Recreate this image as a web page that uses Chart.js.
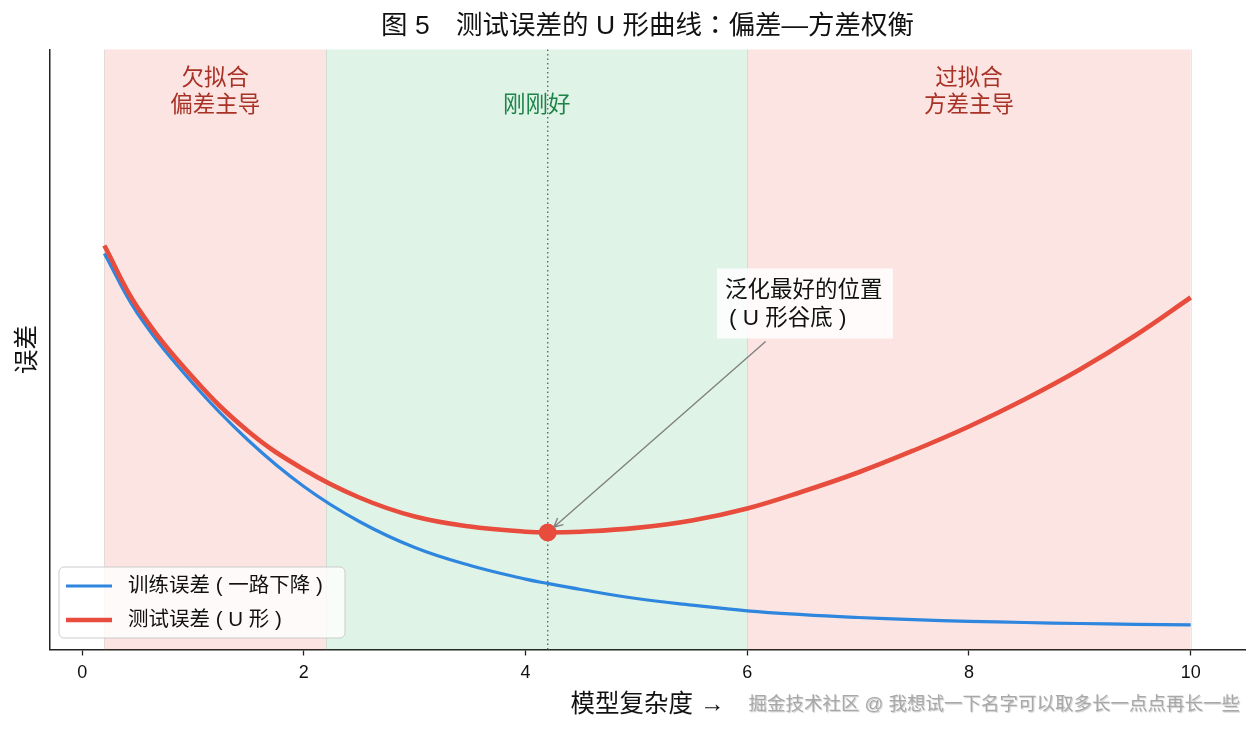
<!DOCTYPE html>
<html>
<head>
<meta charset="utf-8">
<script src="https://cdn.jsdelivr.net/npm/chart.js@4.4.1/dist/chart.umd.min.js"></script>
<style>
    html, body { margin: 0; padding: 0; background: #fff; }
    canvas { display: block; }
</style>
</head>
<body>
<canvas id="uCurveChart" width="1260" height="734"></canvas>
<script>
// Data
const complexity = [0.2, 0.5, 1, 1.5, 2, 2.5, 3, 3.5, 4, 4.2, 4.5, 5, 5.5, 6, 6.5, 7, 7.5, 8, 8.5, 9, 9.5, 10];
const trainError = [1.98, 1.68, 1.33, 1.045, 0.815, 0.64, 0.51, 0.42, 0.352, 0.33, 0.30, 0.255, 0.222, 0.193, 0.174, 0.16, 0.149, 0.141, 0.135, 0.13, 0.126, 0.123];
const testError = [2.02, 1.71, 1.36, 1.09, 0.90, 0.76, 0.665, 0.615, 0.589, 0.585, 0.589, 0.608, 0.645, 0.705, 0.79, 0.885, 0.995, 1.115, 1.25, 1.40, 1.57, 1.76];
const xTickValues = [0, 2, 4, 6, 8, 10];
const regionEdges = [0.2, 2.2, 6.0, 10.0];
const regionNames = [['欠拟合', '偏差主导'], ['刚刚好'], ['过拟合', '方差主导']];
const regionCenters = [1.2, 4.1, 8.0];
const bestComplexity = 4.2;
const bestTestError = 0.585;

const FONT = '"Liberation Sans", "Noto Sans CJK SC", sans-serif';
const TITLE_FONT = '"Liberation Sans", "Noto Sans CJK TC", sans-serif';
const RED = '#e74c3c';
const BLUE = '#2e86de';

const toPoints = (xs, ys) => xs.map((x, i) => ({ x: x, y: ys[i] }));

// Shaded regimes, dotted optimum line, region labels
const backdrop = {
    id: 'backdrop',
    beforeDatasetsDraw(chart) {
        const { ctx, chartArea: a, scales: { x } } = chart;
        const fills = ['rgba(231,76,60,0.15)', 'rgba(39,174,96,0.15)', 'rgba(231,76,60,0.15)'];
        const textColors = ['#a93226', '#1e8449', '#a93226'];
        ctx.save();
        for (let i = 0; i < 3; i++) {
            const x0 = x.getPixelForValue(regionEdges[i]);
            const x1 = x.getPixelForValue(regionEdges[i + 1]);
            ctx.fillStyle = fills[i];
            ctx.fillRect(x0, a.top, x1 - x0, a.bottom - a.top);
        }
        ctx.strokeStyle = 'rgba(160,160,160,0.25)';
        ctx.lineWidth = 1;
        regionEdges.forEach(v => {
            const px = Math.round(x.getPixelForValue(v)) + 0.5;
            ctx.beginPath();
            ctx.moveTo(px, a.top);
            ctx.lineTo(px, a.bottom);
            ctx.stroke();
        });

        // optimum marker line
        const bx = x.getPixelForValue(bestComplexity);
        ctx.strokeStyle = '#666';
        ctx.lineWidth = 1.4;
        ctx.setLineDash([1.5, 3]);
        ctx.beginPath();
        ctx.moveTo(bx, a.top);
        ctx.lineTo(bx, a.bottom);
        ctx.stroke();
        ctx.setLineDash([]);

        ctx.font = '22.5px ' + FONT;
        ctx.textAlign = 'center';
        ctx.textBaseline = 'middle';
        regionNames.forEach((lines, i) => {
            ctx.fillStyle = textColors[i];
            const cx = x.getPixelForValue(regionCenters[i]);
            if (lines.length === 2) {
                ctx.fillText(lines[0], cx, a.top + 29);
                ctx.fillText(lines[1], cx, a.top + 56);
            } else {
                ctx.fillText(lines[0], cx, a.top + 56);
            }
        });
        ctx.restore();
    }
};

// Annotation box + arrow, legend
const overlay = {
    id: 'overlay',
    afterDatasetsDraw(chart) {
        const { ctx, chartArea: a, scales: { x, y } } = chart;
        ctx.save();

        // annotation
        const cx = x.getPixelForValue(6.52);
        const cy = y.getPixelForValue(1.73);
        const bw = 176, bh = 70;
        const tx = x.getPixelForValue(bestComplexity);
        const ty = y.getPixelForValue(bestTestError);
        const dx = tx - cx, dy = ty - cy;
        const t = Math.min((bh / 2) / Math.abs(dy), (bw / 2) / Math.abs(dx));
        const sx = cx + dx * t, sy = cy + dy * t + 3;
        const len = Math.hypot(tx - sx, ty - sy);
        const ux = (tx - sx) / len, uy = (ty - sy) / len;
        const ex = tx - ux * 8, ey = ty - uy * 8;
        ctx.strokeStyle = '#808080';
        ctx.lineWidth = 1.4;
        ctx.beginPath();
        ctx.moveTo(sx, sy);
        ctx.lineTo(ex, ey);
        const ang = Math.atan2(uy, ux);
        const hl = 10, ha = 0.45;
        ctx.moveTo(ex - hl * Math.cos(ang - ha), ey - hl * Math.sin(ang - ha));
        ctx.lineTo(ex, ey);
        ctx.lineTo(ex - hl * Math.cos(ang + ha), ey - hl * Math.sin(ang + ha));
        ctx.stroke();

        ctx.fillStyle = 'rgba(255,255,255,0.85)';
        ctx.fillRect(cx - bw / 2, cy - bh / 2, bw, bh);
        ctx.fillStyle = '#111';
        ctx.font = '22.5px ' + FONT;
        ctx.textAlign = 'left';
        ctx.textBaseline = 'middle';
        ctx.fillText('泛化最好的位置', cx - bw / 2 + 8, cy - 13);
        ctx.fillText('( U 形谷底 )', cx - bw / 2 + 12, cy + 15);

        // legend
        const lx = a.left + 9, ly = a.bottom - 82.5, lw = 286, lh = 71;
        ctx.beginPath();
        ctx.roundRect(lx, ly, lw, lh, 5);
        ctx.fillStyle = 'rgba(255,255,255,0.8)';
        ctx.fill();
        ctx.strokeStyle = 'rgba(200,200,200,0.9)';
        ctx.lineWidth = 1;
        ctx.stroke();
        const entries = [
            { label: '训练误差 ( 一路下降 )', color: BLUE, width: 3 },
            { label: '测试误差 ( U 形 )', color: RED, width: 4.5 }
        ];
        entries.forEach((e, i) => {
            const yy = ly + 19 + i * 34;
            ctx.strokeStyle = e.color;
            ctx.lineWidth = e.width;
            ctx.beginPath();
            ctx.moveTo(lx + 7, yy);
            ctx.lineTo(lx + 53, yy);
            ctx.stroke();
            ctx.fillStyle = '#111';
            ctx.font = '20.5px ' + FONT;
            ctx.fillText(e.label, lx + 69, yy);
        });
        ctx.restore();
    },
    afterDraw(chart) {
        const { ctx, chartArea: a } = chart;
        const mid = (a.left + a.right) / 2;
        ctx.save();
        ctx.fillStyle = '#111';
        ctx.textAlign = 'center';
        ctx.textBaseline = 'middle';
        ctx.font = '26.5px ' + TITLE_FONT;
        ctx.fillText('图 5　测试误差的 U 形曲线：偏差—方差权衡', mid, 27);

        ctx.font = '24.5px ' + FONT;
        ctx.fillText('模型复杂度 →', mid, 705);

        ctx.translate(28, (a.top + a.bottom) / 2);
        ctx.rotate(-Math.PI / 2);
        ctx.fillText('误差', 0, 0);
        ctx.restore();

        // watermark
        ctx.save();
        ctx.font = '18.5px ' + FONT;
        ctx.textAlign = 'right';
        ctx.textBaseline = 'middle';
        ctx.shadowColor = 'rgba(0,0,0,0.2)';
        ctx.shadowOffsetX = 1;
        ctx.shadowOffsetY = 1;
        ctx.shadowBlur = 1;
        ctx.fillStyle = '#a8a8a8';
        ctx.fillText('掘金技术社区 @ 我想试一下名字可以取多长一点点再长一些', 1240, 705);
        ctx.restore();
    }
};

new Chart(document.getElementById('uCurveChart'), {
    type: 'line',
    data: {
        datasets: [
            {
                type: 'scatter',
                data: [{ x: bestComplexity, y: bestTestError }],
                backgroundColor: RED,
                borderWidth: 0,
                pointRadius: 9,
                order: 0
            },
            {
                label: '测试误差（U 形）',
                data: toPoints(complexity, testError),
                borderColor: RED,
                borderWidth: 4.6,
                pointRadius: 0,
                tension: 0.4,
                fill: false,
                order: 1
            },
            {
                label: '训练误差（一路下降）',
                data: toPoints(complexity, trainError),
                borderColor: BLUE,
                borderWidth: 3.2,
                pointRadius: 0,
                tension: 0.4,
                fill: false,
                order: 2
            }
        ]
    },
    options: {
        responsive: false,
        animation: false,
        devicePixelRatio: 1,
        layout: { padding: { left: 50, right: 15, top: 49.5, bottom: 0 } },
        plugins: { legend: { display: false }, tooltip: { enabled: false } },
        scales: {
            x: {
                type: 'linear',
                min: -0.29,
                max: 10.49,
                afterBuildTicks: s => { s.ticks = xTickValues.map(v => ({ value: v })); },
                afterFit: s => { s.height = 84.5; },
                grid: { display: true, drawOnChartArea: false, drawTicks: true, tickLength: 6, tickColor: '#222', tickWidth: 1.3 },
                border: { display: true, color: '#222', width: 1.5 },
                ticks: { color: '#111', font: { size: 18, family: FONT }, padding: 7, maxRotation: 0, autoSkip: false }
            },
            y: {
                min: 0,
                max: 3,
                afterFit: s => { s.width = 0; },
                ticks: { display: false },
                grid: { display: false },
                border: { display: true, color: '#222', width: 1.5 }
            }
        }
    },
    plugins: [backdrop, overlay]
});
</script>
</body>
</html>
